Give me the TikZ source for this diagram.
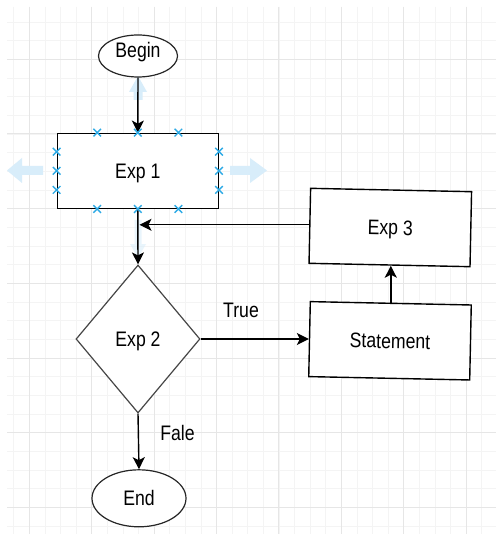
\documentclass[tikz,border=0pt]{standalone}
\usepackage{fontspec}
\usepackage{graphicx}
\setmainfont{Liberation Sans}
\usetikzlibrary{shapes.geometric,arrows.meta,calc}

% slightly condensed label text
\newcommand{\narrowtxt}[1]{\scalebox{0.84}[1]{#1}}
\newcommand{\lblfont}{\fontsize{21}{24}\selectfont}

\definecolor{gridmajor}{RGB}{230,230,230}
\definecolor{gridminor}{RGB}{244,244,244}
\definecolor{hoverblue}{RGB}{216,237,250}
\definecolor{handleblue}{RGB}{45,170,230}
\definecolor{diamondgray}{RGB}{70,70,70}

\tikzset{
  lbl/.style={font=\lblfont, text height=15pt, text depth=0pt, inner sep=0pt},
  stepbox/.style={lbl, draw=black, line width=1.4pt, fill=white,
    minimum width=161pt, minimum height=75pt},
  terminal/.style={lbl, ellipse, draw=black!85, line width=1.2pt, fill=white},
  decision/.style={lbl, diamond, draw=diamondgray, line width=1.2pt, fill=white,
    minimum width=124pt, minimum height=148pt},
  flow/.style={draw=black, line width=1.4pt,
    -{Stealth[length=12pt,width=12pt,inset=3pt]}},
  hoverarrow/.style={fill=hoverblue, draw=none},
  xhandle/.pic={\draw[handleblue, line width=1.4pt]
    (-3.8pt,-3.8pt) -- (3.8pt,3.8pt) (-3.8pt,3.8pt) -- (3.8pt,-3.8pt);}
}

\begin{document}
\begin{tikzpicture}[x=1pt, y=-1pt]
  \useasboundingbox (0,0) rectangle (496,534);
  \fill[white] (0,0) rectangle (496,534);

  % background grid
  \begin{scope}
    \clip (7,7) rectangle (496,534);
    \foreach \i in {0,...,30}
      \draw[gridminor, line width=0.8pt] ({13.7+15.6*\i},7) -- ({13.7+15.6*\i},534);
    \foreach \i in {0,...,27}
      \draw[gridminor, line width=0.8pt] (7,{21.96+18.67*\i}) -- (496,{21.96+18.67*\i});
    \foreach \i in {0,...,7}
      \draw[gridmajor, line width=1pt] ({29.3+62.4*\i},7) -- ({29.3+62.4*\i},534);
    \foreach \i in {0,...,6}
      \draw[gridmajor, line width=1pt] (7,{59.3+74.7*\i}) -- (496,{59.3+74.7*\i});
  \end{scope}

  % hover arrows around the selected step
  \fill[hoverarrow] (7,170.5) -- (22,158) -- (22,166) -- (43,166) -- (43,175)
    -- (22,175) -- (22,183) -- cycle;
  \fill[hoverarrow] (267,170.5) -- (250,158) -- (250,166) -- (230,166) -- (230,175)
    -- (250,175) -- (250,183) -- cycle;
  \fill[hoverarrow] (138,76) -- (147,92) -- (142.5,92) -- (142.5,100) -- (133.5,100)
    -- (133.5,92) -- (129,92) -- cycle;
  \fill[hoverarrow, opacity=0.55] (138,258) -- (146,244) -- (141.5,244) -- (141.5,220)
    -- (134.5,220) -- (134.5,244) -- (130,244) -- cycle;

  % nodes
  \node[terminal, minimum width=79pt, minimum height=42pt, text depth=11pt]
    (begin) at (138,56) {\narrowtxt{Begin}};
  \node[stepbox] (e1) at (137.8,170.8) {\narrowtxt{Exp 1}};
  \node[decision] (e2) at (138,339) {\narrowtxt{Exp 2}};
  \node[stepbox, rotate=-1.2] (e3) at (390.3,227.5) {\narrowtxt{Exp 3}};
  \node[stepbox, rotate=-1.2] (stmt) at (390,340.8) {\narrowtxt{Statement}};
  \node[terminal, minimum width=94pt, minimum height=57pt]
    (end) at (139,498.3) {\narrowtxt{End}};

  % branch labels
  \node[lbl] (truelbl) at (241,310) {\narrowtxt{True}};
  \node[lbl] (falelbl) at (177.5,433.3) {\narrowtxt{Fale}};

  % connectors
  \coordinate (join) at (138,224.8);
  \draw[flow] (begin.south) -- (e1.north);
  \draw[flow] (e1.south) -- (e2.north);
  \draw[flow] (e2.east) -- (e2.east -| stmt.west);
  \draw[flow] (stmt.north) -- (stmt.north |- e3.south);
  \draw[flow, shorten >=1.5pt] (e3.west |- join) -- (join);
  \draw[flow] (e2.south) -- (end.north);

  % selection handles on Exp 1
  \foreach \f in {0.25,0.5,0.75} {
    \path ($(e1.north west)!\f!(e1.north east)$) pic{xhandle};
    \path ($(e1.south west)!\f!(e1.south east)$) pic{xhandle};
    \path ($(e1.north west)!\f!(e1.south west)$) pic{xhandle};
    \path ($(e1.north east)!\f!(e1.south east)$) pic{xhandle};
  }
\end{tikzpicture}
\end{document}
